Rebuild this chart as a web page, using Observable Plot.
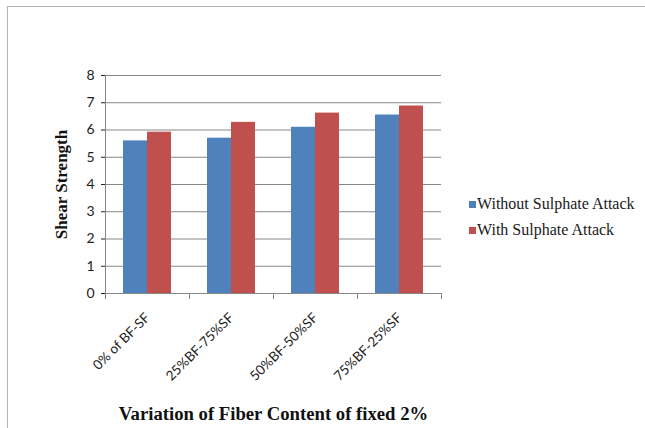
<!DOCTYPE html>
<html><head><meta charset="utf-8">
<script src="https://cdn.jsdelivr.net/npm/d3@7"></script>
<script src="https://cdn.jsdelivr.net/npm/@observablehq/plot@0.6"></script>
<style>
body{margin:0;background:#fff;}
#wrap{position:relative;width:645px;height:428px;overflow:hidden;background:#fff;}
#wrap svg{position:absolute;left:0;top:0;}
#border{position:absolute;left:7px;top:6px;right:-2px;bottom:-2px;border-top:1px solid #b4b4b4;border-left:1px solid #b4b4b4;pointer-events:none}
#legend{position:absolute;left:469px;top:191px;font-family:"Liberation Serif","Times New Roman",serif;font-size:16px;color:#1a1a1a;}
.row{display:flex;align-items:center;height:26px;white-space:nowrap;}
.sw{display:inline-block;width:7px;height:7px;margin-right:1px;}
g[aria-label="y-axis label"] text{font-family:"Liberation Serif","Times New Roman",serif;font-weight:bold;font-size:17px;fill:#111;}
g[aria-label="fx-axis label"] text{font-family:"Liberation Serif","Times New Roman",serif;font-weight:bold;font-size:18.7px;fill:#111;}
g[aria-label="fx-axis tick label"] text{font-size:13.5px;}
g[aria-label="y-axis tick"]{stroke:#868686;}
</style></head>
<body><div id="wrap"><div id="border"></div><div id="legend"></div></div>
<script>
const categories = ["0% of BF-SF", "25%BF-75%SF", "50%BF-50%SF", "75%BF-25%SF"];
const series = ["Without Sulphate Attack", "With Sulphate Attack"];
const withoutSulphate = [5.6, 5.7, 6.1, 6.55];
const withSulphate = [5.92, 6.28, 6.62, 6.88];
const yTicks = [0, 1, 2, 3, 4, 5, 6, 7, 8];
const colors = ["#4F81BD", "#C0504D"];
const yLabel = "Shear Strength";
const xLabel = "Variation of Fiber Content of fixed 2%";

const data = categories.flatMap((c, i) => [
  {category: c, series: series[0], value: withoutSulphate[i]},
  {category: c, series: series[1], value: withSulphate[i]}
]);

const axisColor = "#868686";
const chart = Plot.plot({
  width: 645, height: 428,
  marginLeft: 103, marginRight: 203, marginTop: 75, marginBottom: 135,
  style: {fontFamily: "Lato, sans-serif", fontSize: "14px", color: "#222", background: "transparent"},
  fx: {domain: categories, padding: 0, label: null},
  x: {domain: series, paddingInner: 0, paddingOuter: 0.74, axis: null},
  y: {domain: [0, 8]},
  color: {domain: series, range: colors},
  marks: [
    Plot.gridY(yTicks, {stroke: axisColor, strokeOpacity: 1}),
    Plot.barY(data, {fx: "category", x: "series", y: "value", fill: "series"}),
    Plot.frame({anchor: "left", stroke: axisColor, facetAnchor: "left"}),
    Plot.frame({anchor: "left", stroke: axisColor, insetTop: 218, insetBottom: -5}),
    Plot.frame({anchor: "right", stroke: axisColor, insetTop: 218, insetBottom: -5, facetAnchor: "right"}),
    Plot.axisY(yTicks, {tickSize: 4, tickPadding: 7, label: yLabel, labelAnchor: "center", labelOffset: 51, labelArrow: "none"}),
    Plot.axisFx({anchor: "bottom", tickSize: 0, tickPadding: 22, tickRotate: -45, label: xLabel, labelAnchor: "center", labelOffset: 126, labelArrow: "none"})
  ]
});
document.getElementById("wrap").appendChild(chart);

const legend = d3.select("#legend");
series.forEach((s, i) => {
  const row = legend.append("div").attr("class", "row");
  row.append("span").attr("class", "sw").style("background", colors[i]);
  row.append("span").text(s);
});
</script>
</body></html>
